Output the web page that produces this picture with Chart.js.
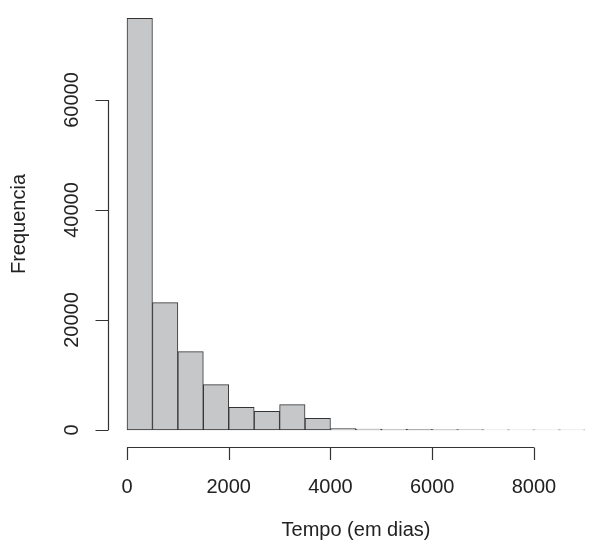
<!DOCTYPE html>
<html>
<head>
<meta charset="utf-8">
<script src="https://cdn.jsdelivr.net/npm/chart.js@4"></script>
<style>
  html, body { margin: 0; padding: 0; background: #fff; }
  canvas { display: block; }
</style>
</head>
<body>
<canvas id="hist" width="601" height="547"></canvas>
<script>
// histogram bins (500 days wide) and counts
const binStarts = [0, 500, 1000, 1500, 2000, 2500, 3000, 3500, 4000, 4500,
                   5000, 5500, 6000, 6500, 7000, 7500, 8000, 8500];
const counts = [74850, 23150, 14250, 8250, 4100, 3400, 4600, 2100, 250, 150,
                120, 100, 80, 60, 50, 40, 30, 20];
const binWidth = 500;

const xTicks = [0, 2000, 4000, 6000, 8000];
const yTicks = [0, 20000, 40000, 60000];
const xTitle = 'Tempo (em dias)';
const yTitle = 'Frequencia';

const FONT = '"Liberation Sans", Arial, Helvetica, sans-serif';
const INK = '#222';

// R-style axes: detached lines with outward ticks, drawn from the chart scales
const rAxes = {
  id: 'rAxes',
  afterDraw(chart) {
    const { ctx, chartArea, scales } = chart;
    const xs = scales.x, ys = scales.y;
    ctx.save();
    ctx.strokeStyle = '#333';
    ctx.lineWidth = 1.2;
    ctx.fillStyle = INK;
    ctx.font = '20px ' + FONT;

    // x axis
    const yb = Math.round(chartArea.bottom) + 0.5;
    ctx.beginPath();
    ctx.moveTo(xs.getPixelForValue(xTicks[0]), yb);
    ctx.lineTo(xs.getPixelForValue(xTicks[xTicks.length - 1]), yb);
    for (const t of xTicks) {
      const px = Math.round(xs.getPixelForValue(t)) + 0.5;
      ctx.moveTo(px, yb);
      ctx.lineTo(px, yb + 12.5);
    }
    ctx.stroke();
    ctx.textAlign = 'center';
    ctx.textBaseline = 'middle';
    for (const t of xTicks) {
      ctx.fillText(String(t), xs.getPixelForValue(t), 487);
    }

    // y axis
    const xl = Math.round(chartArea.left) + 0.5;
    ctx.beginPath();
    ctx.moveTo(xl, ys.getPixelForValue(yTicks[0]));
    ctx.lineTo(xl, ys.getPixelForValue(yTicks[yTicks.length - 1]));
    for (const t of yTicks) {
      const py = Math.round(ys.getPixelForValue(t)) + 0.5;
      ctx.moveTo(xl, py);
      ctx.lineTo(xl - 13, py);
    }
    ctx.stroke();
    for (const t of yTicks) {
      ctx.save();
      ctx.translate(72, ys.getPixelForValue(t));
      ctx.rotate(-Math.PI / 2);
      ctx.fillText(String(t), 0, 0);
      ctx.restore();
    }

    // axis titles
    ctx.fillText(xTitle, 356, 530);
    ctx.save();
    ctx.translate(19, 224);
    ctx.rotate(-Math.PI / 2);
    ctx.fillText(yTitle, 0, 0);
    ctx.restore();
    ctx.restore();
  }
};

new Chart(document.getElementById('hist'), {
  type: 'bar',
  data: {
    datasets: [{
      data: binStarts.map((s, i) => ({ x: s + binWidth / 2, y: counts[i] })),
      backgroundColor: '#c6c7c9',
      borderColor: '#333',
      borderWidth: 1,
      borderSkipped: false,
      barPercentage: 1,
      categoryPercentage: 1
    }]
  },
  options: {
    responsive: false,
    animation: false,
    layout: { padding: { left: 108, right: 0, top: 1.5, bottom: 100.3 } },
    scales: {
      x: { type: 'linear', min: -374, max: 9319, offset: false, display: false },
      y: { min: -3036, max: 77909, display: false }
    },
    plugins: { legend: { display: false }, tooltip: { enabled: false } }
  },
  plugins: [rAxes]
});
</script>
</body>
</html>
